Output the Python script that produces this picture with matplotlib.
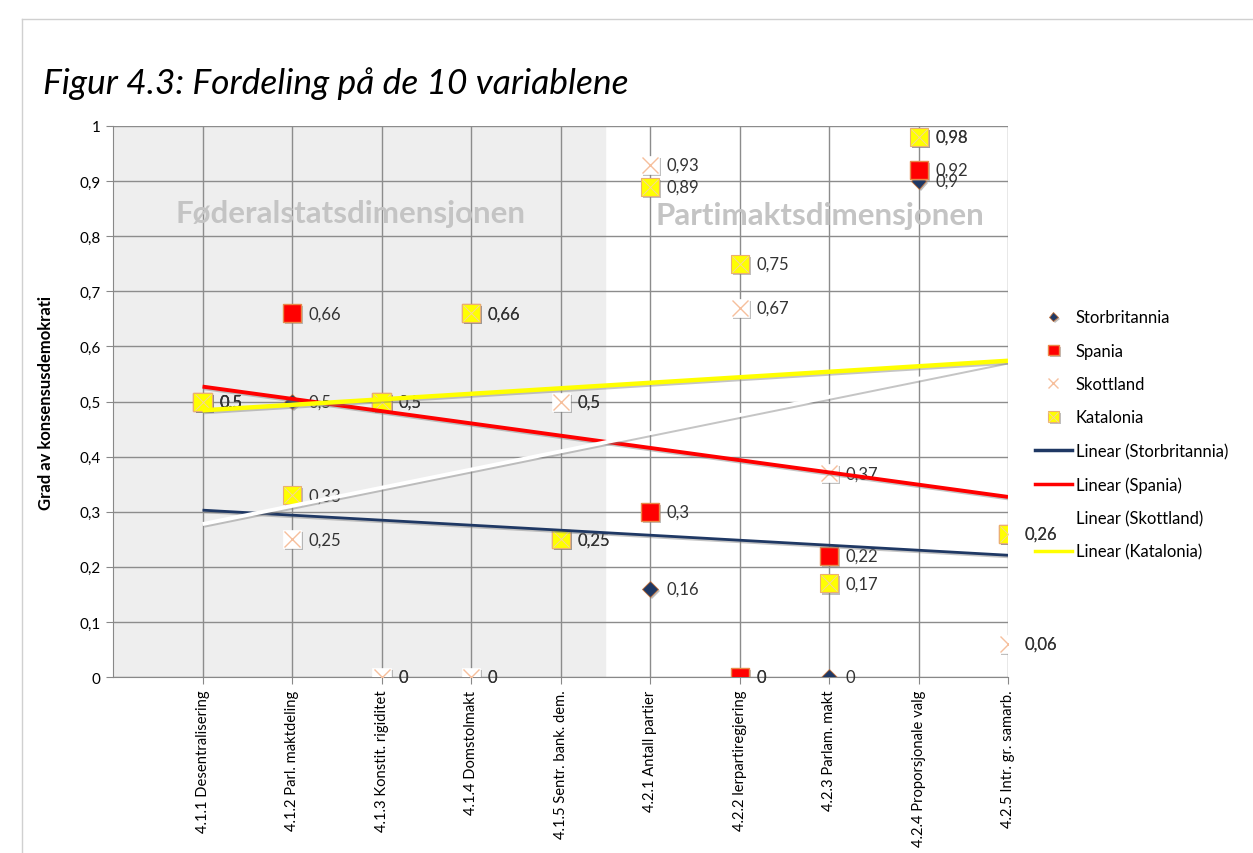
import matplotlib
matplotlib.use('Agg')
import matplotlib.pyplot as plt
import matplotlib.patheffects as pe
from matplotlib.legend_handler import HandlerTuple
from matplotlib.lines import Line2D
import numpy as np

plt.rcParams['font.family'] = ['Lato', 'DejaVu Sans']

categories = ['4.1.1 Desentralisering', '4.1.2 Parl. maktdeling', '4.1.3 Konstit. rigiditet',
              '4.1.4 Domstolmakt', '4.1.5 Sentr. bank. dem.', '4.2.1 Antall partier',
              '4.2.2 lerpartiregjering', '4.2.3 Parlam. makt', '4.2.4 Proporsjonale valg',
              '4.2.5 Intr. gr. samarb.']
storbritannia = [0.5, 0.5, 0, 0, 0.5, 0.16, 0, 0, 0.9, 0.06]
spania = [0.5, 0.66, 0.5, 0.66, 0.25, 0.3, 0, 0.22, 0.92, 0.26]
skottland = [0.5, 0.25, 0, 0, 0.5, 0.93, 0.67, 0.37, 0.98, 0.06]
katalonia = [0.5, 0.33, 0.5, 0.66, 0.25, 0.89, 0.75, 0.17, 0.98, 0.26]
y_ticks = [0, 0.1, 0.2, 0.3, 0.4, 0.5, 0.6, 0.7, 0.8, 0.9, 1]

x = np.arange(1, len(categories) + 1)

fig = plt.figure(figsize=(12.53, 8.54), dpi=100)
ax = fig.add_axes([0.0902, 0.206, 0.7143, 0.6453])

# shaded first dimension
ax.axvspan(0, 5.5, color='#eeeeee', zorder=0)
ax.set_xlim(0, 10)
ax.set_ylim(0, 1)
ax.set_xticks(x)
ax.set_xticklabels(categories, rotation=90, fontsize=10.6)
ax.set_yticks(y_ticks)
ax.set_yticklabels([f'{t:g}'.replace('.', ',') for t in y_ticks], fontsize=11)
ax.tick_params(axis='both', length=5, color='#888888', pad=4)
ax.grid(True, color='#8c8c8c', lw=1, zorder=1)
ax.set_axisbelow(True)
for s in ['top', 'right']:
    ax.spines[s].set_visible(False)
for s in ['left', 'bottom']:
    ax.spines[s].set_color('#888888')
ax.set_ylabel('Grad av konsensusdemokrati', fontsize=12, fontweight='bold', labelpad=18)

ax.text(2.65, 0.843, 'Føderalstatsdimensjonen', fontsize=22.5, fontweight='bold',
        color='#c4c4c4', ha='center', va='center', zorder=2)
ax.text(7.9, 0.838, 'Partimaktsdimensjonen', fontsize=22.5, fontweight='bold',
        color='#c4c4c4', ha='center', va='center', zorder=2)

shadow = [pe.SimplePatchShadow(offset=(1.5, -1.5), shadow_rgbFace='#808080', alpha=0.5), pe.Normal()]
lshadow = [pe.SimpleLineShadow(offset=(1.2, -1.2), shadow_color='#808080', alpha=0.45), pe.Normal()]

# markers
h_gb, = ax.plot(x, storbritannia, 'D', ms=8, color='#1f3864', mec='#c0703a', mew=0.6,
                ls='none', zorder=4, path_effects=shadow)
h_es, = ax.plot(x, spania, 's', ms=13, color='#ff0000', mec='#e8894a', mew=1,
                ls='none', zorder=5, path_effects=shadow)
h_sc1, = ax.plot(x, skottland, 's', ms=13, color='white', mec='white', mew=0.5,
                 ls='none', zorder=6, path_effects=shadow)
h_sc2, = ax.plot(x, skottland, 'x', ms=12, color='#f6bf9c', mew=1,
                 ls='none', zorder=6)
h_ca1, = ax.plot(x, katalonia, 's', ms=13, color='#ffff00', mec='#eab070', mew=0.8,
                 ls='none', zorder=7, path_effects=shadow)
h_ca2, = ax.plot(x, katalonia, 'x', ms=12, color='#f5d49a', mew=0.7,
                 ls='none', zorder=7)

# data labels
for series in [storbritannia, spania, skottland, katalonia]:
    for xi, yi in zip(x, series):
        ax.annotate(f'{yi:g}'.replace('.', ','), (xi, yi), xytext=(12, 0),
                    textcoords='offset points', va='center', ha='left',
                    fontsize=12, color='#333333', zorder=8, annotation_clip=False)

# linear trend lines
xs = np.array([1, 10])
trend_styles = [(storbritannia, '#1f3864', 2.0), (spania, '#ff0000', 2.8),
                (skottland, '#ffffff', 2.8), (katalonia, '#ffff00', 3.2)]
trend_handles = []
for series, col, lw in trend_styles:
    k, m = np.polyfit(x, series, 1)
    h, = ax.plot(xs, k * xs + m, color=col, lw=lw, zorder=9, path_effects=lshadow,
                 solid_capstyle='butt')
    trend_handles.append(Line2D([], [], color=col, lw=2.5))

fig.legend([h_gb, h_es, h_sc2, (h_ca1, h_ca2)] + trend_handles,
           ['Storbritannia', 'Spania', 'Skottland', 'Katalonia',
            'Linear (Storbritannia)', 'Linear (Spania)', 'Linear (Skottland)', 'Linear (Katalonia)'],
           loc='upper left', bbox_to_anchor=(0.814, 0.654), frameon=False, fontsize=12,
           handlelength=2.2, handletextpad=0.25, labelspacing=1.04, markerscale=0.6,
           handler_map={tuple: HandlerTuple(ndivide=1, pad=0)})

fig.text(0.034, 0.902, 'Figur 4.3: Fordeling på de 10 variablene', fontsize=25.5,
         style='italic', ha='left', va='center')

# chart frame
fig.add_artist(Line2D([0.0176, 0.0176], [0, 0.977], color='#d0d0d0', lw=1, transform=fig.transFigure))
fig.add_artist(Line2D([0.0176, 1], [0.977, 0.977], color='#d0d0d0', lw=1, transform=fig.transFigure))

fig.savefig('out.png', dpi=100, facecolor='white')
